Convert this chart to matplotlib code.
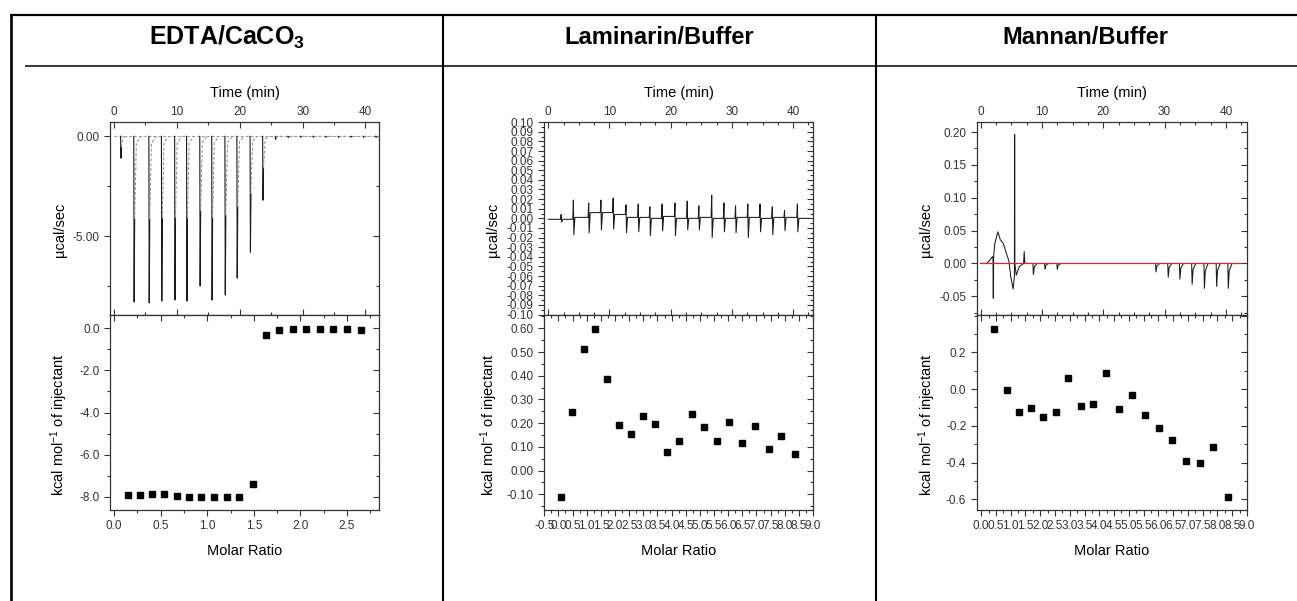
import matplotlib
matplotlib.use('Agg')
import matplotlib.pyplot as plt
from matplotlib.lines import Line2D
from matplotlib.ticker import MultipleLocator, FixedLocator, FormatStrFormatter

plt.rcParams['font.family'] = ['Liberation Sans', 'DejaVu Sans']
plt.rcParams['mathtext.fontset'] = 'custom'
plt.rcParams['mathtext.rm'] = 'Liberation Sans'
plt.rcParams['mathtext.bf'] = 'Liberation Sans:bold'
plt.rcParams['mathtext.it'] = 'Liberation Sans:italic'

W, H = 1297, 601

titles = [r'EDTA/CaCO$_\mathbf{3}$', 'Laminarin/Buffer', 'Mannan/Buffer']

# ---------------- Panel 1: EDTA / CaCO3 ----------------
edta_inj_time = [1.1, 3.2, 5.6, 7.6, 9.7, 11.6, 13.7, 15.6, 17.7, 19.6, 21.7, 23.7,
                 25.7, 27.7, 29.7, 31.7, 33.7, 35.7, 37.7, 39.7, 41.7]
edta_inj_depth = [-1.1, -8.3, -8.35, -8.25, -8.2, -8.25, -7.5, -8.2, -7.95, -7.1, -5.8, -3.2,
                  -0.15, -0.06, -0.05, -0.05, -0.05, -0.05, -0.05, -0.05, -0.05]
edta_ratio = [0.147, 0.279, 0.408, 0.537, 0.673, 0.806, 0.938, 1.074, 1.21, 1.346,
              1.49, 1.629, 1.772, 1.915, 2.062, 2.205, 2.352, 2.499, 2.65]
edta_heat = [-7.94, -7.94, -7.88, -7.86, -7.97, -7.99, -7.99, -7.99, -8.02, -7.99,
             -7.40, -0.33, -0.08, -0.05, -0.05, -0.05, -0.05, -0.05, -0.10]

# ---------------- Panel 2: Laminarin / Buffer ----------------
lam_inj_time = [2.1, 4.1, 6.6, 8.6, 10.6, 12.7, 14.7, 16.6, 18.6, 20.7, 22.7, 24.6,
                26.7, 28.7, 30.6, 32.6, 34.6, 36.6, 38.6, 40.7]
lam_spike_up = [0.004, 0.019, 0.016, 0.019, 0.021, 0.014, 0.015, 0.012, 0.015, 0.016,
                0.018, 0.013, 0.024, 0.016, 0.013, 0.015, 0.015, 0.012, 0.008, 0.015]
lam_spike_down = [-0.004, -0.017, -0.015, -0.012, -0.011, -0.015, -0.014, -0.018, -0.013, -0.018,
                  -0.012, -0.012, -0.020, -0.014, -0.015, -0.020, -0.014, -0.017, -0.013, -0.014]
lam_baseline = [-0.001, 0.001, 0.006, 0.006, 0.004, 0.001, 0.001, 0.000, 0.002, 0.000,
                0.000, 0.001, 0.000, 0.000, 0.001, 0.001, 0.000, 0.001, 0.001, 0.000]
lam_ratio = [0.09, 0.49, 0.89, 1.30, 1.71, 2.13, 2.55, 2.98, 3.40, 3.84,
             4.27, 4.71, 5.14, 5.59, 6.04, 6.50, 6.96, 7.43, 7.88, 8.35]
lam_heat = [-0.111, 0.247, 0.513, 0.597, 0.386, 0.191, 0.156, 0.229, 0.196, 0.077,
            0.126, 0.237, 0.184, 0.125, 0.203, 0.118, 0.188, 0.092, 0.147, 0.070]

# ---------------- Panel 3: Mannan / Buffer ----------------
man_trace_time = [0.0, 1.0, 1.5, 1.9, 2.0, 2.06, 2.12, 2.3, 2.8, 3.2, 3.7, 4.2, 4.6,
                  4.9, 5.3, 5.5, 5.54, 5.58, 5.8, 6.3, 7.0, 7.1, 7.2, 8.0]
man_trace_val = [0.0, 0.0, 0.005, 0.01, 0.01, -0.053, 0.012, 0.03, 0.048, 0.036, 0.03, 0.015,
                 0.004, -0.02, -0.039, -0.02, 0.196, 0.0, -0.018, -0.005, 0.0, 0.018, 0.0, 0.0]
man_neg_time = [8.6, 10.5, 12.5, 28.6, 30.6, 32.5, 34.5, 36.5, 38.5, 40.4]
man_neg_depth = [-0.017, -0.009, -0.009, -0.013, -0.021, -0.024, -0.032, -0.038, -0.035, -0.038]
man_ratio = [0.445, 0.864, 1.27, 1.68, 2.09, 2.52, 2.94, 3.38, 3.79, 4.23,
             4.67, 5.12, 5.56, 6.01, 6.47, 6.93, 7.40, 7.86, 8.34]
man_heat = [0.325, -0.007, -0.127, -0.101, -0.150, -0.127, 0.058, -0.094, -0.080, 0.087,
            -0.107, -0.030, -0.141, -0.212, -0.277, -0.393, -0.402, -0.317, -0.587]

fig = plt.figure(figsize=(W / 100, H / 100), dpi=100)
fig.patch.set_facecolor('white')


def rect(x0, y0, x1, y1):
    return [x0 / W, 1 - y1 / H, (x1 - x0) / W, (y1 - y0) / H]


def fline(x0, y0, x1, y1, lw):
    fig.add_artist(Line2D([x0 / W, x1 / W], [1 - y0 / H, 1 - y1 / H],
                          transform=fig.transFigure, color='black', lw=lw,
                          solid_capstyle='butt'))


# table frame
fline(10, 14.5, 1297, 14.5, 1.6)
fline(10.5, 13.5, 10.5, 601, 1.9)
fline(25, 66, 1297, 66, 1.1)
fline(443, 14, 443, 601, 1.5)
fline(876, 14, 876, 601, 1.5)

col_centers = [226.5, 659.5, 1085.5]
title_sizes = [18, 17, 17]
for cx, t, fs in zip(col_centers, titles, title_sizes):
    fig.text(cx / W, 1 - 37 / H, t, ha='center', va='center', fontsize=fs,
             fontweight='bold', color='black')

lefts = [110, 544, 976.7]
rights = [379.3, 813.3, 1247.3]
TOP, MID, BOT = 121.7, 315, 510

TICK = '#333333'
LBL = 10.5
TLS = 8.5

xmaj_args = {}


def ML(v):
    loc = MultipleLocator(v)
    xmaj_args[id(loc)] = (v,)
    return loc


def style_axes(ax, upper, xmaj, xmin, ymaj, ymin):
    for s in ax.spines.values():
        s.set_color('#333333')
        s.set_linewidth(0.9)
    ax.xaxis.set_major_locator(xmaj)
    ax.xaxis.set_minor_locator(xmin)
    ax.yaxis.set_major_locator(ymaj)
    ax.yaxis.set_minor_locator(ymin)
    ax.tick_params(axis='both', which='both', colors=TICK, labelsize=TLS, width=0.8)
    ax.tick_params(axis='both', which='major', length=4)
    ax.tick_params(axis='both', which='minor', length=2)
    ax.tick_params(axis='y', which='both', direction='out', left=True, right=False)
    if upper:
        ax.xaxis.tick_top()
        ax.xaxis.set_label_position('top')
        ax.tick_params(axis='x', which='both', direction='in', top=True, bottom=False,
                       labeltop=True, labelbottom=False, pad=3)
        sec = ax.secondary_xaxis('bottom')
        sec.tick_params(axis='x', which='both', direction='in', labelbottom=False,
                        colors=TICK, width=0.8)
    else:
        ax.tick_params(axis='x', which='both', direction='out', bottom=True, top=False)
        sec = ax.secondary_xaxis('top')
        sec.tick_params(axis='x', which='both', direction='in', labeltop=False,
                        colors=TICK, width=0.8)
    sec.xaxis.set_major_locator(MultipleLocator(*xmaj_args[id(xmaj)]))
    sec.xaxis.set_minor_locator(MultipleLocator(*xmaj_args[id(xmin)]))
    sec.tick_params(which='major', length=4)
    sec.tick_params(which='minor', length=2)
    sec.spines[:].set_visible(False)
    secy = ax.secondary_yaxis('right')
    secy.tick_params(axis='y', which='both', direction='in', labelright=False,
                     colors=TICK, width=0.8)
    secy.yaxis.set_major_locator(MultipleLocator(*xmaj_args[id(ymaj)]))
    secy.yaxis.set_minor_locator(MultipleLocator(*xmaj_args[id(ymin)]))
    secy.tick_params(which='major', length=4)
    secy.tick_params(which='minor', length=2)
    secy.spines[:].set_visible(False)


axes_up = [fig.add_axes(rect(lefts[i], TOP, rights[i], MID)) for i in range(3)]
axes_lo = [fig.add_axes(rect(lefts[i], MID, rights[i], BOT)) for i in range(3)]

# Panel 1 upper
ax = axes_up[0]
ax.plot([0, 42], [0, 0], color='#9a9a9a', lw=0.7, ls=(0, (3, 2)))
for t, d in zip(edta_inj_time, edta_inj_depth):
    ax.plot([t - 0.06, t, t + 0.08], [0, d, d * 0.5], color='#1a1a1a', lw=0.8)
    ax.plot([t + 0.08, t + 0.35, t + 1.1], [d * 0.5, d * 0.04, 0],
            color='#8a8a8a', lw=0.7, ls=(0, (3, 2)))
ax.set_xlim(-0.64, 42.2)
ax.set_ylim(-8.95, 0.73)
style_axes(ax, True, ML(10), ML(5), ML(5), ML(2.5))
ax.yaxis.set_major_formatter(FormatStrFormatter('%.2f'))

# Panel 2 upper
ax = axes_up[1]
tt = [0.0]
vv = [lam_baseline[0]]
for t, up, dn, b in zip(lam_inj_time, lam_spike_up, lam_spike_down, lam_baseline):
    tt += [t - 0.1, t, t + 0.08, t + 0.25]
    vv += [vv[-1], up, dn, b]
tt.append(42.5)
vv.append(0.0)
ax.plot(tt, vv, color='#1a1a1a', lw=0.75)
ax.set_xlim(-0.7, 43.3)
ax.set_ylim(-0.1005, 0.1005)
style_axes(ax, True, ML(10), ML(2.5), ML(0.01), ML(0.005))
ax.yaxis.set_major_formatter(FormatStrFormatter('%.2f'))

# Panel 3 upper
ax = axes_up[2]
ax.plot(man_trace_time, man_trace_val, color='#1a1a1a', lw=0.75)
for t, d in zip(man_neg_time, man_neg_depth):
    ax.plot([t - 0.08, t, t + 0.15, t + 0.6], [0, d, d * 0.3, 0], color='#1a1a1a', lw=0.75)
ax.plot([0, 42.5], [0, 0], color='#d42a2a', lw=0.9, zorder=5)
ax.set_xlim(-0.65, 43.5)
ax.set_ylim(-0.0786, 0.2157)
style_axes(ax, True, ML(10), ML(2.5), ML(0.05), ML(0.025))
ax.yaxis.set_major_formatter(FormatStrFormatter('%.2f'))

for ax in axes_up:
    ax.set_xlabel('Time (min)', fontsize=LBL, color='black', labelpad=6)

# ---------- Lower axes (integrated heats) ----------
ax = axes_lo[0]
ax.plot(edta_ratio, edta_heat, 's', color='black', ms=4.6)
ax.set_xlim(-0.043, 2.846)
ax.set_ylim(-8.63, 0.63)
style_axes(ax, False, ML(0.5), ML(0.25), ML(2), ML(1))
ax.xaxis.set_major_formatter(FormatStrFormatter('%.1f'))
ax.yaxis.set_major_formatter(FormatStrFormatter('%.1f'))

ax = axes_lo[1]
ax.plot(lam_ratio, lam_heat, 's', color='black', ms=4.6)
ax.set_xlim(-0.51, 9.01)
ax.set_ylim(-0.166, 0.656)
style_axes(ax, False, ML(0.5), ML(0.25), ML(0.1), ML(0.05))
ax.xaxis.set_major_formatter(FormatStrFormatter('%.1f'))
ax.yaxis.set_major_formatter(FormatStrFormatter('%.2f'))

ax = axes_lo[2]
ax.plot(man_ratio, man_heat, 's', color='black', ms=4.6)
ax.set_xlim(-0.15, 9.01)
ax.set_ylim(-0.658, 0.403)
style_axes(ax, False, ML(0.5), ML(0.25), ML(0.2), ML(0.1))
ax.yaxis.set_major_locator(FixedLocator([-0.6, -0.4, -0.2, 0.0, 0.2]))
ax.xaxis.set_major_formatter(FormatStrFormatter('%.1f'))
ax.yaxis.set_major_formatter(FormatStrFormatter('%.1f'))

for ax in axes_lo:
    ax.set_xlabel('Molar Ratio', fontsize=LBL, color='black', labelpad=8)

ylab_up_x = [-0.16, -0.164, -0.161]
ylab_lo_x = [-0.149, -0.164, -0.143]
for i in range(3):
    axes_up[i].set_ylabel('\u00b5cal/sec', fontsize=LBL, color='black')
    axes_up[i].yaxis.set_label_coords(ylab_up_x[i], 0.44)
    axes_lo[i].set_ylabel(r'kcal mol$^{\mathregular{-1}}$ of injectant', fontsize=LBL, color='black')
    axes_lo[i].yaxis.set_label_coords(ylab_lo_x[i], 0.44)

fig.savefig('out.png', dpi=100, facecolor='white')
